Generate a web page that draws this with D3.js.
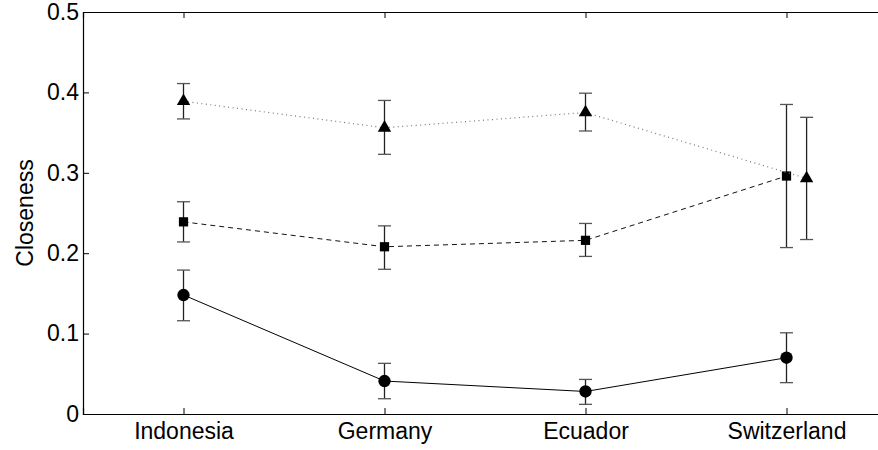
<!DOCTYPE html>
<html>
<head>
<meta charset="utf-8">
<script src="https://cdn.jsdelivr.net/npm/d3@7"></script>
<style>
  body { margin: 0; background: #fff; }
  svg text { font-family: 'Liberation Sans', Arial, sans-serif; }
</style>
</head>
<body>
<div class="visualization"></div>
<script>
// data
var countries = ['Indonesia', 'Germany', 'Ecuador', 'Switzerland']
var yTicks = [0, 0.1, 0.2, 0.3, 0.4, 0.5]

var circleMean = [0.148, 0.041, 0.028, 0.070]
var circleLow = [0.116, 0.019, 0.012, 0.039]
var circleHigh = [0.179, 0.063, 0.043, 0.101]

var squareMean = [0.239, 0.208, 0.216, 0.296]
var squareLow = [0.214, 0.180, 0.196, 0.207]
var squareHigh = [0.264, 0.234, 0.237, 0.385]

var triMean = [0.389, 0.356, 0.375, 0.293]
var triLow = [0.367, 0.323, 0.352, 0.217]
var triHigh = [0.411, 0.390, 0.399, 0.369]
// small x shift of a point (in category units), only the last triangle is moved
var triShift = [0, 0, 0, 0.1]

const WIDTH = 878
const HEIGHT = 450
var margin = {top: 12, right: -9, bottom: 36, left: 83}
var w = WIDTH - margin.left - margin.right
var h = HEIGHT - margin.top - margin.bottom

var x = d3.scaleLinear().domain([0.5, 4.5]).range([0, w])
var y = d3.scaleLinear().domain([0, 0.5]).range([h, 0])

const svg = d3.select('.visualization')
  .append('svg')
  .attr('width', WIDTH)
  .attr('height', HEIGHT)
  .append('g')
  .attr('transform', 'translate(' + margin.left + ',' + margin.top + ')')

function makeSeries (mean, low, high, shift) {
  return mean.map(function (m, i) {
    return {i: i + 1 + (shift ? shift[i] : 0), m: m, lo: low[i], hi: high[i]}
  })
}

var series = [
  {data: makeSeries(circleMean, circleLow, circleHigh), dash: null, color: '#000', width: 1, marker: 'circle'},
  {data: makeSeries(squareMean, squareLow, squareHigh), dash: '5,4', color: '#111', width: 1, marker: 'square'},
  {data: makeSeries(triMean, triLow, triHigh, triShift), dash: '1,3.5', color: '#777', width: 1.2, marker: 'triangle'}
]

// axes: ticks pointing inward, on both sides
svg.append('g')
  .attr('class', 'x-axis')
  .attr('transform', 'translate(0,' + h + ')')
  .call(d3.axisBottom(x).tickValues([1, 2, 3, 4]).tickSize(-6).tickPadding(9)
    .tickFormat(function (d) { return countries[d - 1] }))
svg.append('g')
  .attr('class', 'x-axis-top')
  .call(d3.axisTop(x).tickValues([1, 2, 3, 4]).tickSize(-6).tickFormat(''))
svg.append('g')
  .attr('class', 'y-axis')
  .call(d3.axisLeft(y).tickValues(yTicks).tickSize(-6).tickPadding(4)
    .tickFormat(function (d) { return d === 0 ? '0' : d3.format('.1f')(d) }))

svg.selectAll('.domain').attr('stroke', '#000').attr('stroke-width', 1.2)
svg.selectAll('.tick line').attr('stroke', '#000')
svg.selectAll('.tick text').style('font-size', '23px').attr('fill', '#000')

svg.append('text')
  .attr('transform', 'translate(' + (-50) + ',' + (h / 2) + ') rotate(-90)')
  .attr('text-anchor', 'middle')
  .style('font-size', '23px')
  .text('Closeness')

var line = d3.line()
  .x(function (d) { return x(d.i) })
  .y(function (d) { return y(d.m) })

series.forEach(function (s) {
  svg.append('path')
    .datum(s.data)
    .attr('fill', 'none')
    .attr('stroke', s.color)
    .attr('stroke-width', s.width)
    .attr('stroke-dasharray', s.dash)
    .attr('d', line)

  var eb = svg.append('g').selectAll('g')
    .data(s.data)
    .enter()
    .append('g')
    .attr('stroke', '#222')
    .attr('stroke-width', 1.3)
  eb.append('line')
    .attr('x1', function (d) { return x(d.i) })
    .attr('x2', function (d) { return x(d.i) })
    .attr('y1', function (d) { return y(d.lo) })
    .attr('y2', function (d) { return y(d.hi) })
  eb.append('line')
    .attr('stroke', '#555')
    .attr('x1', function (d) { return x(d.i) - 6.5 })
    .attr('x2', function (d) { return x(d.i) + 6.5 })
    .attr('y1', function (d) { return y(d.lo) })
    .attr('y2', function (d) { return y(d.lo) })
  eb.append('line')
    .attr('stroke', '#555')
    .attr('x1', function (d) { return x(d.i) - 6.5 })
    .attr('x2', function (d) { return x(d.i) + 6.5 })
    .attr('y1', function (d) { return y(d.hi) })
    .attr('y2', function (d) { return y(d.hi) })

  var sym = s.marker === 'circle' ? d3.symbolCircle
    : s.marker === 'square' ? d3.symbolSquare : d3.symbolTriangle
  var size = s.marker === 'circle' ? 120 : s.marker === 'square' ? 85 : 78
  svg.append('g').selectAll('path')
    .data(s.data)
    .enter()
    .append('path')
    .attr('d', d3.symbol().type(sym).size(size))
    .attr('transform', function (d) {
      return 'translate(' + x(d.i) + ',' + y(d.m) + ')'
    })
    .attr('fill', '#000')
})
</script>
</body>
</html>
